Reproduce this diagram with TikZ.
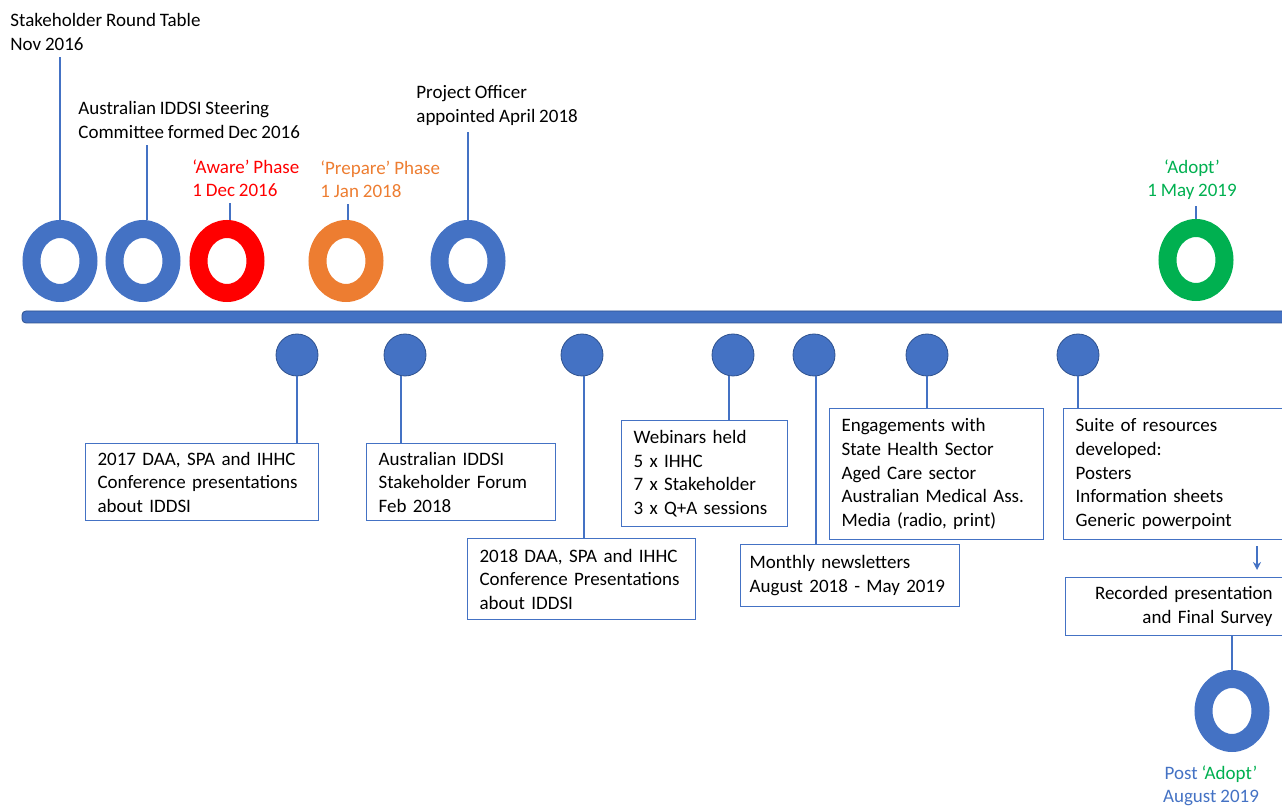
\documentclass[tikz,border=0pt]{standalone}
\usepackage{fontspec}
\setmainfont{Carlito}[WordSpace=0.9]
\usetikzlibrary{shapes.geometric,arrows.meta}
\definecolor{tlblue}{HTML}{4472C4}
\definecolor{tldark}{HTML}{2F528F}
\definecolor{tlred}{HTML}{FF0000}
\definecolor{tlorange}{HTML}{ED7D31}
\definecolor{tlgreen}{HTML}{00B050}

\begin{document}
\begin{tikzpicture}[x=0.5pt,y=-0.5pt,
  font=\fontsize{9.5}{11.8}\selectfont,
  ring/.style={ellipse,draw=#1,line width=9pt,minimum width=28.5pt,minimum height=32pt,inner sep=0pt},
  dot/.style={circle,fill=tlblue,draw=tldark,line width=0.4pt,minimum size=21pt,inner sep=0pt},
  lbl/.style={inner xsep=0pt,inner ysep=3pt,align=left,anchor=north west},
  box/.style={draw=tlblue,line width=0.6pt,inner xsep=6pt,inner ysep=0pt,align=left,anchor=north west},
  conn/.style={draw=tlblue,line width=0.7pt}]
\useasboundingbox (0,0) rectangle (1282,807);

% time line
\fill[tlblue,draw=tldark,line width=0.4pt,rounded corners=2pt] (22,311) rectangle (1295,323);

% milestones above the line
\node[ring=tlblue] (r1) at (60,261) {};
\node[ring=tlblue] (r2) at (143,261) {};
\node[ring=tlred] (r3) at (227,261) {};
\node[ring=tlorange] (r4) at (346,261) {};
\node[ring=tlblue] (r5) at (468,261) {};
\node[ring=tlgreen] (r6) at (1196,260) {};

\node[lbl] (l1) at (10,7) {Stakeholder Round Table\\Nov 2016};
\node[lbl] (l2) at (78,95) {Australian IDDSI Steering\\Committee formed Dec 2016};
\node[lbl,text=tlred] (l3) at (192,153) {‘Aware’ Phase\\1 Dec 2016};
\node[lbl,text=tlorange] (l4) at (320,154) {‘Prepare’ Phase\\1 Jan 2018};
\node[lbl] (l5) at (416,79) {Project Officer\\appointed April 2018};
\node[lbl,anchor=north,align=center,text=tlgreen] (l6) at (1192,153) {‘Adopt’\\1 May 2019};

\draw[conn] (r1.north) -- (r1.north |- l1.south);
\draw[conn] ([xshift=2pt]r2.north) -- ([xshift=2pt]r2.north |- l2.south);
\draw[conn] ([xshift=1.5pt]r3.north) -- ([xshift=1.5pt]r3.north |- l3.south);
\draw[conn] ([xshift=1pt]r4.north) -- ([xshift=1pt]r4.north |- l4.south);
\draw[conn] (r5.north) -- (r5.north |- l5.south);
\draw[conn] (r6.north) -- (r6.north |- l6.south);

% activities below the line
\node[dot] (d1) at (297,355) {};
\node[dot] (d2) at (405,355) {};
\node[dot] (d3) at (582,355) {};
\node[dot] (d4) at (733,355) {};
\node[dot] (d5) at (814,355) {};
\node[dot] (d6) at (927,355) {};
\node[dot] (d7) at (1078,355) {};

\node[box,text width=104.5pt,minimum height=38.5pt] (b1) at (85,443) {2017 DAA, SPA and IHHC\\Conference presentations\\about IDDSI};
\node[box,text width=82.5pt,minimum height=38.5pt] (b2) at (366,443) {Australian IDDSI\\Stakeholder Forum\\Feb 2018};
\node[box,text width=102pt,minimum height=40.5pt] (b3) at (467,538) {2018 DAA, SPA and IHHC\\Conference Presentations\\about IDDSI};
\node[box,text width=71pt,minimum height=53pt] (b4) at (621,420) {Webinars held\\5 x IHHC\\7 x Stakeholder\\3 x Q+A sessions};
\node[box,inner xsep=4.5pt,text width=100.5pt,minimum height=31pt] (b5) at (740,544) {Monthly newsletters\\August 2018 - May 2019};
\node[box,text width=95pt,minimum height=65.5pt] (b6) at (829,408) {Engagements with\\State Health Sector\\Aged Care sector\\Australian Medical Ass.\\Media (radio, print)};
\node[box,text width=98.5pt,minimum height=65.5pt] (b7) at (1063,408) {Suite of resources\\developed:\\Posters\\Information sheets\\Generic powerpoint};
\node[box,align=right,text width=97.5pt,minimum height=29pt] (b8) at (1065,577) {Recorded presentation\\and Final Survey};

\draw[conn] (d1.south) -- (d1.south |- b1.north);
\draw[conn] ([xshift=-2pt]d2.south) -- ([xshift=-2pt]d2.south |- b2.north);
\draw[conn] ([xshift=1pt]d3.south) -- ([xshift=1pt]d3.south |- b3.north);
\draw[conn] ([xshift=-2pt]d4.south) -- ([xshift=-2pt]d4.south |- b4.north);
\draw[conn] ([xshift=1pt]d5.south) -- ([xshift=1pt]d5.south |- b5.north);
\draw[conn] (d6.south) -- (d6.south |- b6.north);
\draw[conn] (d7.south) -- (d7.south |- b7.north);

\coordinate (ar) at (1257,0);
\draw[conn,-{Stealth[length=4pt,width=4pt]},shorten <=3pt,shorten >=3.5pt] (b7.south -| ar) -- (b8.north -| ar);

% post adopt
\node[ring=tlblue] (r7) at (1232,711) {};
\node[lbl,anchor=north,align=center,text=tlblue] (l7) at (1211,759) {Post \textcolor{tlgreen}{‘Adopt’}\\August 2019};
\draw[conn] (b8.south -| r7.north) -- (r7.north);

  \end{tikzpicture}
\end{document}
